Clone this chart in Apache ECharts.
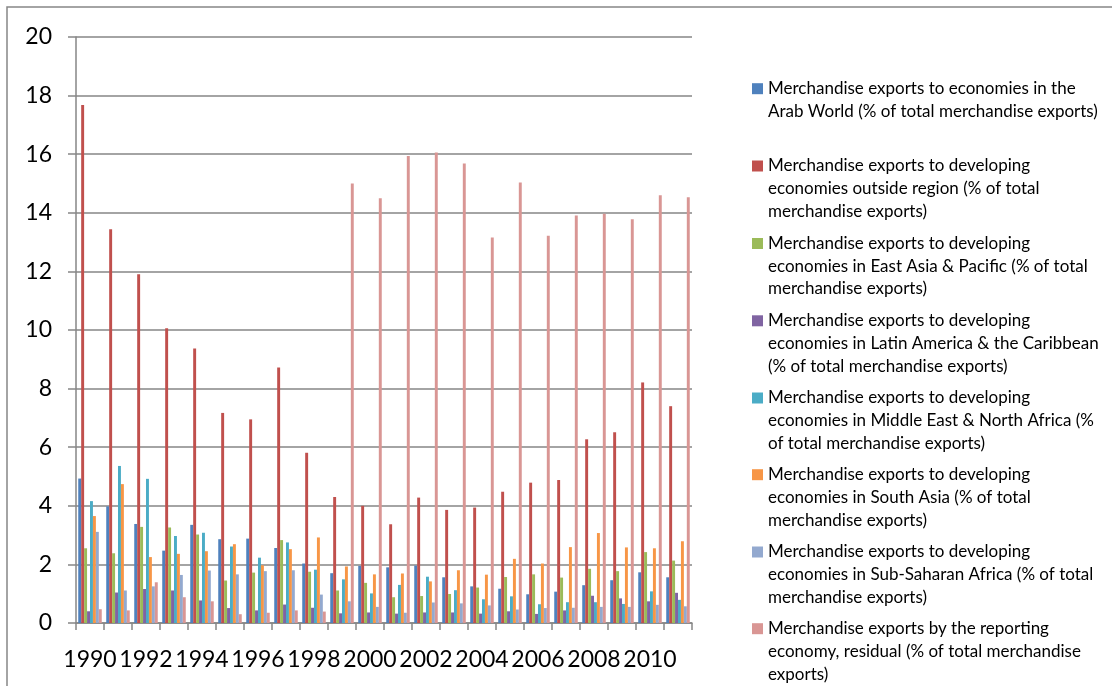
<!DOCTYPE html>
<html>
<head>
<meta charset="utf-8">
<script src="https://cdn.jsdelivr.net/npm/echarts@6/dist/echarts.min.js"></script>
<style>
  html, body { margin: 0; padding: 0; background: #ffffff; }
  #chart { width: 1112px; height: 686px; }
</style>
</head>
<body>
<div id="chart"></div>
<script>
// ---- Data ----
const years = ["1990","1991","1992","1993","1994","1995","1996","1997","1998","1999","2000",
               "2001","2002","2003","2004","2005","2006","2007","2008","2009","2010","2011"];

const arabWorld   = [4.93,3.98,3.38,2.47,3.35,2.86,2.88,2.56,2.03,1.70,1.95,1.90,1.96,1.56,1.25,1.17,0.98,1.07,1.29,1.46,1.73,1.56];
const outsideReg  = [17.68,13.44,11.90,10.06,9.37,7.17,6.95,8.72,5.81,4.30,4.00,3.37,4.28,3.86,3.94,4.48,4.79,4.88,6.27,6.51,8.21,7.40];
const eastAsia    = [2.55,2.38,3.28,3.26,3.02,1.45,1.72,2.83,1.75,1.11,1.37,0.88,0.92,0.99,1.21,1.57,1.66,1.55,1.85,1.77,2.42,2.13];
const latinAm     = [0.40,1.04,1.16,1.11,0.77,0.51,0.43,0.63,0.52,0.33,0.36,0.32,0.36,0.36,0.32,0.40,0.31,0.43,0.93,0.84,0.74,1.03];
const middleEast  = [4.16,5.36,4.92,2.97,3.08,2.61,2.23,2.75,1.82,1.49,1.01,1.30,1.58,1.12,0.81,0.91,0.64,0.71,0.71,0.65,1.08,0.79];
const southAsia   = [3.65,4.74,2.25,2.36,2.45,2.69,1.97,2.52,2.92,1.93,1.66,1.69,1.42,1.80,1.65,2.19,2.03,2.59,3.07,2.58,2.55,2.79];
const subSaharan  = [3.11,1.11,1.25,1.64,1.79,1.66,1.77,1.80,0.97,0.74,0.55,0.35,0.70,0.67,0.60,0.46,0.51,0.52,0.55,0.55,0.62,0.57];
const residual    = [0.47,0.43,1.39,0.88,0.74,0.30,0.35,0.43,0.39,15.00,14.50,15.94,16.06,15.68,13.16,15.03,13.22,13.91,13.97,13.78,14.60,14.53];

const seriesNames = [
  "Merchandise exports to economies in the Arab World (% of total merchandise exports)",
  "Merchandise exports to developing economies outside region (% of total merchandise exports)",
  "Merchandise exports to developing economies in East Asia & Pacific (% of total merchandise exports)",
  "Merchandise exports to developing economies in Latin America & the Caribbean (% of total merchandise exports)",
  "Merchandise exports to developing economies in Middle East & North Africa (% of total merchandise exports)",
  "Merchandise exports to developing economies in South Asia (% of total merchandise exports)",
  "Merchandise exports to developing economies in Sub-Saharan Africa (% of total merchandise exports)",
  "Merchandise exports by the reporting economy, residual (% of total merchandise exports)"
];
const legendLines = [
  ["Merchandise exports to economies in the", "Arab World (% of total merchandise exports)"],
  ["Merchandise exports to developing", "economies outside region (% of total", "merchandise exports)"],
  ["Merchandise exports to developing", "economies in East Asia & Pacific (% of total", "merchandise exports)"],
  ["Merchandise exports to developing", "economies in Latin America & the Caribbean", "(% of total merchandise exports)"],
  ["Merchandise exports to developing", "economies in Middle East & North Africa (%", "of total merchandise exports)"],
  ["Merchandise exports to developing", "economies in South Asia (% of total", "merchandise exports)"],
  ["Merchandise exports to developing", "economies in Sub-Saharan Africa (% of total", "merchandise exports)"],
  ["Merchandise exports by the reporting", "economy, residual (% of total merchandise", "exports)"]
];
const seriesData = [arabWorld, outsideReg, eastAsia, latinAm, middleEast, southAsia, subSaharan, residual];
const colors = ["#4F81BD","#C0504D","#9BBB59","#8064A2","#4BACC6","#F79646","#93A9CF","#D99694"];

// ---- Layout ----
const FONT = "Lato";
const LH = 22.7;
const legendCenters = [88.7, 166, 243.5, 320.8, 398, 474.7, 552, 628.7];

const legends = seriesNames.map((name, i) => {
  const lines = legendLines[i];
  const n = lines.length;
  // blank lines above so that the first real line sits level with the marker
  const padded = Array(n - 1).fill(" ").concat(lines);
  return {
    data: [name],
    left: 752,
    top: legendCenters[i] - (2 * n - 1) * LH / 2,
    orient: "vertical",
    padding: 0,
    itemWidth: 11,
    itemHeight: 11,
    selectedMode: false,
    icon: "rect",
    formatter: () => padded.join("\n"),
    textStyle: {
      fontFamily: FONT,
      fontSize: 17,
      color: "#000",
      lineHeight: LH
    }
  };
});

const chart = echarts.init(document.getElementById("chart"), null, { renderer: "canvas" });
chart.setOption({
  animation: false,
  backgroundColor: "#ffffff",
  color: colors,
  graphic: [{
    type: "rect",
    shape: { x: 7, y: 7, width: 1130, height: 700 },
    style: { fill: "none", stroke: "#868686", lineWidth: 1.5 },
    silent: true,
    z: -10
  }],
  legend: legends,
  grid: { left: 76, right: 420, top: 37, bottom: 63, containLabel: false },
  xAxis: {
    type: "category",
    data: years,
    axisLine: { show: true, lineStyle: { color: "#868686", width: 1.5 } },
    axisTick: { show: true, alignWithLabel: false, interval: 0, length: 7, lineStyle: { color: "#868686", width: 1.5 } },
    axisLabel: {
      interval: 1, margin: 25, fontFamily: FONT, fontSize: 23, color: "#000",
      hideOverlap: false, showMinLabel: true
    },
    splitLine: { show: false }
  },
  yAxis: {
    type: "value",
    min: 0, max: 20, interval: 2,
    axisLine: { show: true, lineStyle: { color: "#868686", width: 1.5 } },
    axisTick: { show: true, length: 8, lineStyle: { color: "#868686", width: 1.5 } },
    axisLabel: { margin: 24, fontFamily: FONT, fontSize: 23, color: "#000" },
    splitLine: { show: true, lineStyle: { color: "#868686", width: 1.5 } }
  },
  series: seriesNames.map((name, i) => ({
    name: name,
    type: "bar",
    data: seriesData[i],
    barGap: "0%",
    barCategoryGap: "16%",
    itemStyle: { color: colors[i] }
  }))
});
</script>
</body>
</html>
